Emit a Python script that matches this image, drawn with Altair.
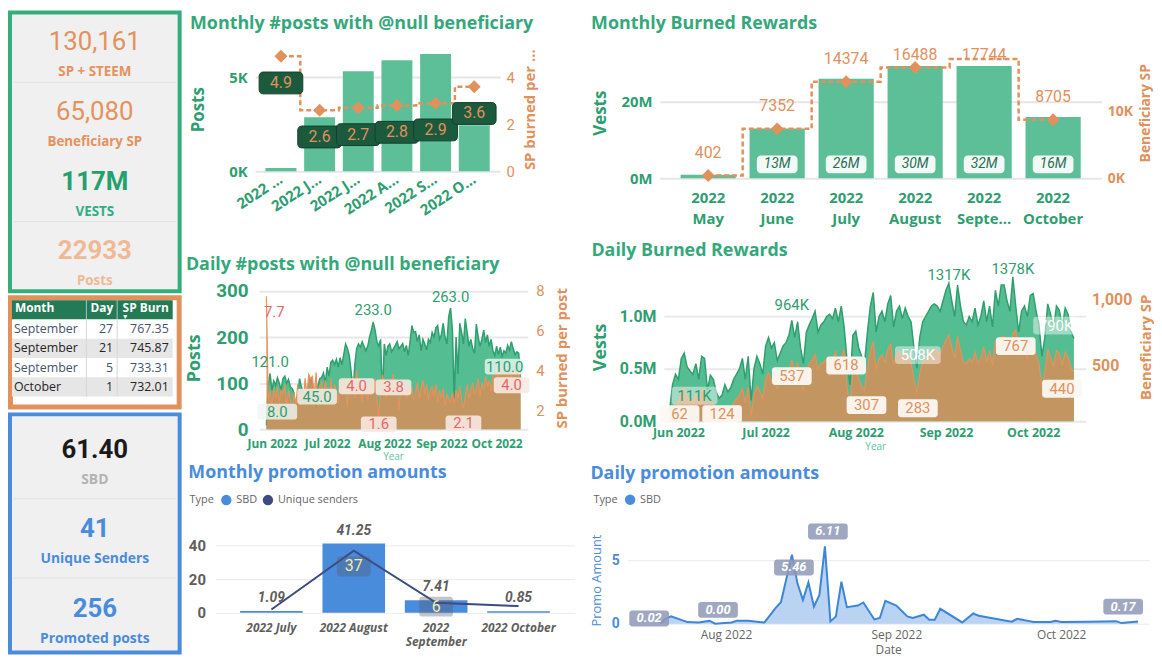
import altair as alt
import pandas as pd

# ---------------- palette & fonts
G_TITLE = "#34a87b"
G_TXT = "#2e9e71"
G_BAR = "#5cbf98"
G_AREA = "#55bd92"
G_LINE = "#2f9f6f"
OR = "#e0915c"
OR_AREA = "#dc8e57"
OR_LINE = "#e8915a"
RED_LBL = "#e8676b"
BLUE = "#4a8cdc"
NAVY = "#3d4b80"
GRAY = "#605e5c"
TF = "'Segoe UI', 'Open Sans', sans-serif"
NF = "DIN, Roboto, sans-serif"

# ---------------- KPI data
KPI1_VALUES = ["130,161", "65,080", "117M", "22933"]
KPI1_LABELS = ["SP + STEEM", "Beneficiary SP", "VESTS", "Posts"]
KPI2_VALUES = ["61.40", "41", "256"]
KPI2_LABELS = ["SBD", "Unique Senders", "Promoted posts"]
TABLE_HEAD = ["Month", "Day", "SP Burn"]
TABLE_MONTH = ["September", "September", "September", "October"]
TABLE_DAY = [27, 21, 5, 1]
TABLE_SP = [767.35, 745.87, 733.31, 732.01]

# ---------------- monthly data
MONTHS = ["2022 May", "2022 June", "2022 July", "2022 August", "2022 September", "2022 October"]
MONTH_SHORT = ["2022 …", "2022 J…", "2022 J…", "2022 A…", "2022 S…", "2022 O…"]
MONTH_NAMES = ["May", "June", "July", "August", "Septe…", "October"]
POSTS_MONTHLY = [175, 2872, 5319, 5904, 6240, 2447]
SP_PER_POST_MONTHLY = [4.9, 2.6, 2.7, 2.8, 2.9, 3.6]
VESTS_MONTHLY_M = [0.88, 13.0, 26.0, 29.6, 32.0, 16.0]
BENEF_SP_MONTHLY = [402, 7352, 14374, 16488, 17744, 8705]

PROMO_MONTHS = ["2022 July", "2022 August", "2022 September", "2022 October"]
PROMO_SBD = [1.09, 41.25, 7.41, 0.85]
PROMO_SENDERS = [2, 37, 6, 4]

# ---------------- daily data (from 2022-05-29)
DAILY_POSTS = [
    8, 95, 121, 85, 105, 95, 112, 100, 85, 110,
    115, 100, 108, 92, 88, 78, 30, 72, 110, 92,
    80, 75, 72, 95, 112, 95, 80, 45, 95, 110,
    112, 122, 100, 135, 115, 145, 150, 140, 152, 135,
    155, 140, 162, 185, 175, 160, 125, 75, 140, 175,
    185, 178, 190, 180, 170, 180, 200, 215, 233, 215,
    190, 180, 195, 70, 185, 160, 180, 185, 168, 175,
    182, 190, 175, 180, 186, 168, 182, 160, 190, 225,
    210, 212, 190, 205, 170, 195, 185, 172, 195, 188,
    210, 200, 220, 225, 195, 205, 230, 200, 185, 245,
    263, 215, 65, 200, 120, 230, 210, 185, 240, 210,
    180, 195, 175, 165, 228, 200, 180, 195, 215, 188,
    205, 180, 195, 170, 160, 180, 162, 178, 158, 170,
    165, 182, 172, 190, 175, 162, 168, 165, 110]
DAILY_SP_PER_POST = [
    7.7, 2.5, 3.0, 2.2, 3.1, 2.6, 3.2, 2.4, 3.0, 2.8,
    3.3, 2.2, 3.0, 2.6, 1.8, 2.9, 2.2, 3.3, 2.5, 3.0,
    2.4, 3.6, 2.8, 3.8, 3.6, 3.7, 2.8, 3.9, 2.2, 3.2,
    3.4, 2.6, 3.5, 3.0, 2.7, 3.6, 2.5, 3.3, 3.0, 2.4,
    3.5, 3.6, 2.8, 3.3, 2.2, 3.4, 3.0, 3.7, 2.6, 4.0,
    2.9, 3.2, 2.4, 3.6, 3.1, 2.5, 3.3, 2.8, 3.2, 3.6,
    2.7, 1.6, 3.0, 3.8, 3.4, 2.6, 3.1, 2.9, 3.5, 3.8,
    3.0, 3.3, 2.0, 3.2, 2.8, 3.4, 2.6, 3.0, 2.7, 3.2,
    2.5, 2.9, 3.4, 2.6, 3.1, 3.5, 2.8, 3.3, 2.5, 3.0,
    3.2, 2.7, 3.3, 2.4, 3.0, 2.6, 3.1, 2.2, 2.8, 2.6,
    2.4, 2.9, 2.3, 3.0, 2.6, 3.2, 2.5, 2.1, 2.7, 3.3,
    2.6, 3.0, 3.4, 2.8, 3.1, 3.6, 2.7, 3.4, 3.0, 3.7,
    3.2, 3.5, 2.9, 3.8, 3.3, 4.1, 3.6, 4.2, 3.9, 3.5,
    4.0, 3.7, 4.1, 3.6, 4.0, 3.8, 4.0, 3.7, 4.0]
DAILY_VESTS_M = [
    0.111, 0.35, 0.45, 0.40, 0.60, 0.65, 0.52, 0.48, 0.45, 0.55,
    0.40, 0.62, 0.60, 0.30, 0.44, 0.40, 0.28, 0.22, 0.25, 0.35,
    0.28, 0.32, 0.40, 0.45, 0.50, 0.60, 0.40, 0.62, 0.20, 0.50,
    0.62, 0.55, 0.45, 0.72, 0.80, 0.70, 0.75, 0.58, 0.65, 0.72,
    0.75, 0.82, 0.964, 0.80, 0.95, 0.70, 0.55, 0.85, 0.92, 0.98,
    1.05, 0.85, 0.92, 0.95, 1.00, 1.02, 0.98, 1.08, 0.95, 1.10,
    0.90, 0.58, 0.35, 0.82, 0.86, 0.70, 0.62, 0.55, 0.85, 1.10,
    1.23, 0.85, 1.00, 1.05, 0.95, 1.12, 1.20, 0.90, 1.05, 1.10,
    0.98, 1.08, 1.00, 0.95, 0.70, 0.508, 0.80, 0.95, 1.00, 1.05,
    1.10, 1.12, 1.10, 1.05, 1.15, 1.25, 1.317, 1.15, 1.00, 1.30,
    1.10, 0.95, 0.92, 1.00, 0.95, 1.08, 0.92, 1.00, 1.15, 0.95,
    1.10, 0.90, 1.25, 1.10, 1.30, 1.30, 1.15, 1.05, 1.378, 1.10,
    0.85, 1.05, 1.10, 1.00, 1.20, 1.22, 1.05, 0.92, 0.62, 0.80,
    1.12, 1.02, 0.88, 1.10, 1.06, 0.90, 1.08, 1.02, 0.86, 0.79]
DAILY_BENEF_SP = [
    62, 150, 210, 190, 300, 330, 250, 240, 220, 280,
    200, 320, 290, 160, 230, 200, 150, 124, 140, 190,
    150, 170, 210, 240, 270, 320, 210, 330, 110, 270,
    340, 300, 240, 400, 440, 380, 410, 320, 350, 400,
    410, 450, 537, 440, 520, 380, 300, 470, 510, 540,
    580, 470, 510, 520, 550, 560, 540, 600, 520, 560,
    618, 320, 200, 450, 480, 390, 340, 307, 470, 610,
    680, 470, 550, 580, 520, 620, 660, 500, 580, 610,
    540, 600, 550, 520, 390, 283, 440, 520, 550, 580,
    610, 620, 610, 580, 640, 690, 730, 640, 550, 720,
    610, 520, 510, 550, 520, 600, 510, 550, 640, 520,
    610, 500, 690, 610, 720, 720, 640, 580, 740, 767,
    600, 580, 610, 550, 660, 680, 580, 510, 340, 440,
    620, 560, 490, 610, 590, 500, 600, 560, 480, 440]

PROMO_DATES = ["2022-07-20", "2022-07-21", "2022-07-22", "2022-07-25", "2022-07-27", "2022-07-29",
               "2022-07-30", "2022-08-02", "2022-08-03", "2022-08-05", "2022-08-08", "2022-08-10",
               "2022-08-11", "2022-08-13", "2022-08-14", "2022-08-15", "2022-08-16", "2022-08-17",
               "2022-08-18", "2022-08-19", "2022-08-20", "2022-08-21", "2022-08-22", "2022-08-23",
               "2022-08-25", "2022-08-26", "2022-08-28", "2022-08-29", "2022-08-30", "2022-09-01",
               "2022-09-03", "2022-09-04", "2022-09-06", "2022-09-07", "2022-09-08", "2022-09-09",
               "2022-09-13", "2022-09-15", "2022-09-16", "2022-09-22", "2022-09-23", "2022-09-26",
               "2022-09-29", "2022-09-30", "2022-10-01", "2022-10-06", "2022-10-11", "2022-10-12",
               "2022-10-15"]
PROMO_SBD_DAILY = [0.02, 0.39, 0.58, 0.13, 0.10, 0.24, 0.00, 0.10, 0.24, 0.24,
                   0.10, 1.23, 1.70, 5.46, 3.19, 1.88, 3.27, 1.34, 2.28, 6.11,
                   0.18, 0.58, 3.32, 1.31, 1.44, 1.68, 0.34, 0.45, 1.81, 1.44,
                   0.58, 0.45, 0.71, 0.31, 0.31, 1.18, 0.10, 0.81, 0.63, 0.16,
                   0.39, 0.13, 0.13, 0.24, 0.13, 0.16, 0.20, 0.05, 0.17]


def jslist(items):
    return "[" + ",".join("'%s'" % s for s in items) + "]"


def ttl(text, color, offset=10):
    return alt.TitleParams(text=text, anchor="start", frame="bounds", font=TF, fontSize=18,
                           fontWeight="bold", color=color, offset=offset)


def indep(c):
    return c.resolve_scale(color="independent").resolve_legend(color="independent")


ONE = pd.DataFrame({"k": [0]})


def lbl_layers(df, x, y, specs, text, tcolor, fsize, box=None, font=NF, weight="normal",
               style="normal", calc=None):
    out = []
    for idx, dx, dy in specs:
        base = alt.Chart(df.iloc[[idx]].reset_index(drop=True))
        if calc:
            base = base.transform_calculate(**calc)
        if box:
            out.append(base.mark_rect(width=box["w"], height=box["h"], cornerRadius=box.get("r", 4),
                                      color=box["fill"], opacity=box["op"], xOffset=dx,
                                      yOffset=dy).encode(x=x, y=y))
        out.append(base.mark_text(dx=dx, dy=dy, color=tcolor, fontSize=fsize, font=font,
                                  fontWeight=weight, fontStyle=style).encode(x=x, y=y, text=text))
    return out


# ================= KPI panels
PANEL_W = 175


def kpi_panel(values, labels, vcolors, lcolors, vsize, vweights, seps, stroke, height, top,
              brange, vdy, ldy, lsize, sep_off=0):
    n = len(values)
    df = pd.DataFrame({"row": list(range(n)), "value": values, "label": labels,
                       "vc": vcolors, "lc": lcolors, "vw": vweights})
    sc = alt.Scale(domain=list(range(n)), range=brange, paddingInner=0, paddingOuter=0)
    y = alt.Y("row:O", axis=None, scale=sc)
    layers = [alt.Chart(ONE).mark_rect(fill="#f0f0f0", stroke=stroke, strokeWidth=4).encode(
        x=alt.value(2), x2=alt.value(PANEL_W - 2), y=alt.value(-top + 2), y2=alt.value(height - 2))]
    sdf = pd.DataFrame({"row": seps})
    layers.append(alt.Chart(sdf).mark_rule(color="#e2e2e2", strokeWidth=1, yOffset=sep_off).encode(
        y=alt.Y("row:O", axis=None, scale=sc, bandPosition=0),
        x=alt.value(6), x2=alt.value(PANEL_W - 6)))
    for wt in ["normal", "bold"]:
        layers.append(alt.Chart(df).transform_filter(f"datum.vw == '{wt}'").mark_text(
            font=NF, fontWeight=wt, fontSize=vsize, dy=vdy).encode(
            y=y, x=alt.value(PANEL_W / 2), text="value:N", color=alt.Color("vc:N", scale=None)))
    layers.append(alt.Chart(df).mark_text(font=TF, fontWeight="bold", fontSize=lsize, dy=ldy).encode(
        y=y, x=alt.value(PANEL_W / 2), text="label:N", color=alt.Color("lc:N", scale=None)))
    return alt.layer(*layers).properties(width=PANEL_W, height=height)


KPI_OR = "#e5925d"
green_box = kpi_panel(KPI1_VALUES, KPI1_LABELS,
                      [KPI_OR, KPI_OR, "#24a06d", "#f0b994"],
                      [KPI_OR, KPI_OR, "#2fae86", "#f0b994"],
                      26, ["normal", "normal", "bold", "bold"],
                      [1, 3], "#34ae7d", 248, 37, [-35, 246], -5, 25, 13.5)

blue_box = kpi_panel(KPI2_VALUES, KPI2_LABELS,
                     ["#1a1a1a", BLUE, BLUE], ["#b3b3b3", BLUE, BLUE],
                     26, ["bold", "bold", "bold"],
                     [1, 2], BLUE, 244, 0, [2, 242], -4, 26, 14, sep_off=5)

# table panel
trows = pd.DataFrame({"row": [0, 1, 2, 3, 4],
                      "bg": ["#237a55", "#ffffff", "#e6e6e6", "#ffffff", "#e6e6e6"]})
tbody = pd.DataFrame({"row": [1, 2, 3, 4], "month": TABLE_MONTH, "day": TABLE_DAY, "sp": TABLE_SP,
                      "tc": ["#44546a", "#252423", "#44546a", "#252423"]})
thead = pd.DataFrame({"row": [0], "h1": [TABLE_HEAD[0]], "h2": [TABLE_HEAD[1]], "h3": [TABLE_HEAD[2]]})
tsc = alt.Scale(domain=[0, 1, 2, 3, 4], range=[5, 102], paddingInner=0, paddingOuter=0)
ty = alt.Y("row:O", axis=None, scale=tsc)
hdr = dict(font=TF, fontWeight="bold", fontSize=12, color="white", dy=-2)
body = dict(font=TF, fontSize=12.5)
table_box = alt.layer(
    alt.Chart(ONE).mark_rect(fill="white", stroke="#e0915c", strokeWidth=5).encode(
        x=alt.value(2.5), x2=alt.value(PANEL_W - 2.5), y=alt.value(2.5), y2=alt.value(112.5)),
    alt.Chart(trows).mark_rect().encode(y=ty, x=alt.value(4), x2=alt.value(166),
                                         color=alt.Color("bg:N", scale=None)),
    alt.Chart(ONE).mark_rule(color="#d6d6d6").encode(x=alt.value(79), y=alt.value(24.4), y2=alt.value(102)),
    alt.Chart(ONE).mark_rule(color="#d6d6d6").encode(x=alt.value(110), y=alt.value(24.4), y2=alt.value(102)),
    alt.Chart(ONE).mark_rule(color="#ffffff", opacity=0.6).encode(x=alt.value(79), y=alt.value(5), y2=alt.value(24.4)),
    alt.Chart(ONE).mark_rule(color="#ffffff", opacity=0.6).encode(x=alt.value(110), y=alt.value(5), y2=alt.value(24.4)),
    alt.Chart(thead).mark_text(align="left", **hdr).encode(y=ty, x=alt.value(7), text="h1:N"),
    alt.Chart(thead).mark_text(align="right", **hdr).encode(y=ty, x=alt.value(106), text="h2:N"),
    alt.Chart(thead).mark_text(align="right", **hdr).encode(y=ty, x=alt.value(162), text="h3:N"),
    alt.Chart(thead).mark_text(text="▼", fontSize=7, color="white", dy=7).encode(y=ty, x=alt.value(118)),
    alt.Chart(tbody).mark_text(align="left", **body).encode(
        y=ty, x=alt.value(6), text="month:N", color=alt.Color("tc:N", scale=None)),
    alt.Chart(tbody).mark_text(align="right", **body).encode(
        y=ty, x=alt.value(106), text="day:Q", color=alt.Color("tc:N", scale=None)),
    alt.Chart(tbody).mark_text(align="right", **body).encode(
        y=ty, x=alt.value(162), text=alt.Text("sp:Q", format=".2f"), color=alt.Color("tc:N", scale=None)),
).properties(width=PANEL_W, height=115)

left_col = indep(alt.vconcat(indep(alt.vconcat(green_box, table_box, spacing=2)), blue_box, spacing=3))

# ================= Chart A: monthly posts
dfA = pd.DataFrame({"month": MONTHS, "posts": POSTS_MONTHLY, "spp": SP_PER_POST_MONTHLY})
xA = alt.X("month:N", sort=MONTHS, title=None,
           scale=alt.Scale(range=[40, 287], paddingInner=0.2, paddingOuter=0.27),
           axis=alt.Axis(labelAngle=327, labelAlign="right", labelBaseline="middle",
                         labelExpr=f"{jslist(MONTH_SHORT)}[indexof({jslist(MONTHS)}, datum.value)]",
                         labelFont=TF, labelFontSize=15, labelFontWeight="bold", labelColor=G_TXT,
                         domain=False, ticks=False, labelPadding=6))
yA1 = alt.Y("posts:Q", title="Posts", scale=alt.Scale(domain=[0, 6600], nice=False),
            axis=alt.Axis(values=[0, 5000], labelExpr="format(datum.value / 1000, 'd') + 'K'",
                          offset=-40, grid=True, gridColor="#e6e6e6", gridWidth=2, domain=False,
                          ticks=False, labelFont=TF, labelFontSize=15, labelFontWeight="bold",
                          labelColor=G_TXT, labelPadding=8, titleFont=TF, titleFontSize=17,
                          titleFontWeight="bold", titleColor=G_TXT, titlePadding=21))
spA = alt.Scale(domain=[0, 5.28], nice=False)
yA2 = alt.Y("spp:Q", title="SP burned per post", scale=spA,
            axis=alt.Axis(orient="right", values=[0, 2, 4], grid=False, domain=False, ticks=False,
                          labelFont=NF, labelFontSize=15, labelColor=OR, labelPadding=6,
                          titleFont=TF, titleFontSize=15, titleFontWeight="bold", titleColor=OR,
                          titleAngle=270, titleBaseline="top", titleLimit=122, titlePadding=8))
yA2n = alt.Y("spp:Q", scale=spA, axis=None)
chartA = alt.layer(
    alt.Chart(dfA).mark_bar(color=G_BAR).encode(x=xA, y=yA1),
    alt.layer(
        alt.Chart(dfA).mark_line(interpolate="step", strokeDash=[5, 3], strokeWidth=2.5, color=OR).encode(x=xA, y=yA2),
        alt.Chart(dfA).mark_point(shape="diamond", filled=True, size=170, opacity=1, color=OR).encode(x=xA, y=yA2),
    ),
    alt.layer(
        alt.Chart(dfA).mark_rect(width=44, height=22, cornerRadius=4, color="#1c5a3e", stroke="#123f2b",
                                 strokeWidth=1, yOffset=27).encode(x=xA, y=yA2n),
        alt.Chart(dfA).mark_text(font=NF, fontSize=16, color=OR, dy=27).encode(
            x=xA, y=yA2n, text=alt.Text("spp:Q", format=".1f")),
    ),
).resolve_scale(y="independent").properties(width=287, height=125,
                                            title=ttl("Monthly #posts with @null beneficiary", G_TITLE, 14))

# ================= Chart D: monthly burned rewards
dfD = pd.DataFrame({"month": MONTHS, "vests": VESTS_MONTHLY_M, "sp": BENEF_SP_MONTHLY})
xD = alt.X("month:N", sort=MONTHS, title=None,
           scale=alt.Scale(range=[33, 478], paddingInner=0.2, paddingOuter=0.3),
           axis=alt.Axis(labelAngle=0,
                         labelExpr=f"['2022', {jslist(MONTH_NAMES)}[indexof({jslist(MONTHS)}, datum.value)]]",
                         labelFont=TF, labelFontSize=15, labelFontWeight="bold", labelColor=G_TXT,
                         labelLineHeight=22, domain=False, ticks=False, labelPadding=12))
vD = alt.Scale(domain=[0, 34.2], nice=False)
axD1 = alt.Axis(values=[0, 20], labelExpr="format(datum.value, 'd') + 'M'", offset=-33,
                grid=True, gridColor="#e6e6e6", gridWidth=2, domain=False, ticks=False,
                labelFont=TF, labelFontSize=15, labelFontWeight="bold", labelColor=G_TXT,
                labelPadding=8, titleFont=TF, titleFontSize=17, titleFontWeight="bold",
                titleColor=G_TXT, titlePadding=12)
yD1 = alt.Y("vb:Q", title="Vests", scale=vD, axis=axD1)
yDz = alt.Y("z:Q", title="Vests", scale=vD, axis=axD1)
sD = alt.Scale(domain=[0, 19508], nice=False)
yD2 = alt.Y("sp:Q", title="Beneficiary SP", scale=sD,
            axis=alt.Axis(orient="right", values=[0, 10000],
                          labelExpr="format(datum.value / 1000, 'd') + 'K'",
                          grid=False, domain=False, ticks=False,
                          labelFont=TF, labelFontSize=14, labelFontWeight="bold", labelColor=OR,
                          labelPadding=6, titleFont=TF, titleFontSize=14, titleFontWeight="bold",
                          titleColor=OR, titleAngle=270, titleBaseline="top", titlePadding=6))
baseD = alt.Chart(dfD)
chartD = alt.layer(
    alt.layer(
        baseD.transform_calculate(vb="min(datum.vests, 29.3)").mark_bar(color=G_BAR).encode(x=xD, y=yD1),
        baseD.transform_filter("datum.vests > 5").transform_calculate(z="0").mark_rect(
            width=41, height=18, cornerRadius=4, color="white", opacity=0.92, yOffset=-14).encode(
            x=xD, y=yDz),
        baseD.transform_filter("datum.vests > 5").transform_calculate(
            z="0", t="format(datum.vests, '.0f') + 'M'").mark_text(
            font=NF, fontSize=14, fontStyle="italic", color="#2b6e52", dy=-14).encode(
            x=xD, y=yDz, text="t:N"),
    ),
    alt.layer(
        baseD.mark_line(interpolate="step", strokeDash=[5, 3], strokeWidth=2.5, color=OR).encode(x=xD, y=yD2),
        baseD.transform_filter("datum.sp < 17000").mark_point(
            shape="diamond", filled=True, size=170, opacity=1, color=OR).encode(x=xD, y=yD2),
    ),
    baseD.transform_calculate(ly="min(datum.sp, 15000)").mark_text(
        font=NF, fontSize=16, color=OR, dy=-23).encode(
        x=xD, y=alt.Y("ly:Q", scale=sD, axis=None), text=alt.Text("sp:Q", format="d")),
).resolve_scale(y="independent").properties(width=478, height=132,
                                            title=ttl("Monthly Burned Rewards", G_TITLE, 14))

# ================= Chart B: daily posts
datesB = pd.date_range("2022-05-29", periods=len(DAILY_POSTS), freq="D")
dfB = pd.DataFrame({"date": datesB, "posts": DAILY_POSTS, "spp": DAILY_SP_PER_POST})
month_ticks = [alt.DateTime(year=2022, month=m, date=1) for m in [6, 7, 8, 9, 10]]
xB = alt.X("date:T", title="Year",
           scale=alt.Scale(domain=[alt.DateTime(year=2022, month=5, date=25),
                                   alt.DateTime(year=2022, month=10, date=18)], range=[44, 315]),
           axis=alt.Axis(values=month_ticks, format="%b %Y", labelFlush=False, labelFont=TF,
                         labelFontSize=12, labelFontWeight="bold", labelColor=G_TXT, grid=False,
                         domain=False, ticks=False, labelPadding=9, titleFont=TF, titleFontSize=10,
                         titleFontWeight="normal", titleColor="#5cc4a0", titlePadding=2, titleX=179))
pB = alt.Scale(domain=[0, 310], nice=False)
yB1 = alt.Y("posts:Q", title="Posts", scale=pB,
            axis=alt.Axis(values=[0, 100, 200, 300], offset=-44, grid=True, gridColor="#e8e8e8",
                          gridWidth=2, domain=False, ticks=False, labelFont=NF, labelFontSize=19,
                          labelFontWeight="bold", labelColor=G_TXT, labelPadding=11, titleFont=TF,
                          titleFontSize=18, titleFontWeight="bold", titleColor=G_TXT, titlePadding=12))
sB = alt.Scale(domain=[1.06, 8.2], nice=False)
yB2 = alt.Y("spp:Q", title="SP burned per post", scale=sB,
            axis=alt.Axis(orient="right", values=[2, 4, 6, 8], grid=False, domain=False, ticks=False,
                          labelFont=NF, labelFontSize=15, labelColor=OR, labelPadding=8,
                          titleFont=TF, titleFontSize=15, titleFontWeight="bold", titleColor=OR,
                          titleAngle=270, titleBaseline="top", titlePadding=10))
yB1n = alt.Y("posts:Q", scale=pB, axis=None)
yB2n = alt.Y("spp:Q", scale=sB, axis=None)
g_box = {"w": 40, "h": 16, "fill": "#eef6f2", "op": 0.8, "r": 3}
o_box = {"w": 36, "h": 16, "fill": "#f7ebe2", "op": 0.88, "r": 3}
chartB = alt.layer(
    alt.Chart(dfB).mark_area(color=G_AREA, opacity=1, line={"color": G_LINE, "strokeWidth": 1.5}).encode(x=xB, y=yB1),
    alt.layer(
        alt.Chart(dfB).mark_area(color=OR_AREA, opacity=0.82, clip=True).encode(x=xB, y=yB2),
        alt.Chart(dfB).mark_line(color=OR_LINE, strokeWidth=1.2, clip=True).encode(x=xB, y=yB2),
    ),
    alt.layer(*(
        lbl_layers(dfB, xB, yB1n, [(2, 0, -12), (58, 0, -12), (100, 0, -11)],
                   alt.Text("posts:Q", format=".1f"), G_TXT, 15)
        + lbl_layers(dfB, xB, yB1n, [(0, 11, -14), (27, 1, -12), (138, -16, -12)],
                     alt.Text("posts:Q", format=".1f"), G_TXT, 15, box=g_box)
    )),
    alt.layer(*(
        lbl_layers(dfB, xB, yB2n, [(0, 8, 16)], alt.Text("spp:Q", format=".1f"), RED_LBL, 15)
        + lbl_layers(dfB, xB, yB2n, [(49, 0, 16), (69, 0, 13), (61, 0, 6), (107, 0, 15), (138, -9, 15)],
                     alt.Text("spp:Q", format=".1f"), RED_LBL, 15, box=o_box)
    )),
).resolve_scale(y="independent").properties(width=315, height=144,
                                            title=ttl("Daily #posts with @null beneficiary", G_TITLE, 8))

# ================= Chart E: daily burned rewards
datesE = pd.date_range("2022-05-29", periods=len(DAILY_VESTS_M), freq="D")
dfE = pd.DataFrame({"date": datesE, "vests": DAILY_VESTS_M, "sp": DAILY_BENEF_SP})
xE = alt.X("date:T", title="Year",
           scale=alt.Scale(domain=[alt.DateTime(year=2022, month=5, date=27),
                                   alt.DateTime(year=2022, month=10, date=19)], range=[37, 462]),
           axis=alt.Axis(values=month_ticks, format="%b %Y", labelFlush=False, labelFont=TF,
                         labelFontSize=12.5, labelFontWeight="bold", labelColor=G_TXT, grid=False,
                         domain=False, ticks=False, labelPadding=5, titleFont=TF, titleFontSize=10,
                         titleFontWeight="normal", titleColor="#5cc4a0", titlePadding=3, titleX=250))
vE = alt.Scale(domain=[0, 1.42], nice=False)
yE1 = alt.Y("vests:Q", title="Vests", scale=vE,
            axis=alt.Axis(values=[0, 0.5, 1.0], labelExpr="format(datum.value, '.1f') + 'M'",
                          offset=-37, grid=True, gridColor="#e8e8e8", gridWidth=2, domain=False,
                          ticks=False, labelFont=NF, labelFontSize=16, labelFontWeight="bold",
                          labelColor=G_TXT, labelPadding=8, titleFont=TF, titleFontSize=18,
                          titleFontWeight="bold", titleColor=G_TXT, titlePadding=10))
sE = alt.Scale(domain=[68.5, 1210], nice=False)
yE2 = alt.Y("sp:Q", title="Beneficiary SP", scale=sE,
            axis=alt.Axis(orient="right", values=[500, 1000], format=",d", grid=False, domain=False,
                          ticks=False, labelFont=NF, labelFontSize=16, labelFontWeight="bold",
                          labelColor=OR, labelPadding=6, titleFont=TF, titleFontSize=15,
                          titleFontWeight="bold", titleColor=OR, titleAngle=270, titleBaseline="top",
                          titlePadding=7))
yE1n = alt.Y("vests:Q", scale=vE, axis=None)
yE2n = alt.Y("sp:Q", scale=sE, axis=None)
kcalc = {"t": "format(datum.vests * 1000, '.0f') + 'K'"}
ge_box = {"w": 46, "h": 18, "fill": "#ffffff", "op": 0.45, "r": 3}
oe_box = {"w": 40, "h": 18, "fill": "#fdf8f3", "op": 0.95, "r": 3}
chartE = alt.layer(
    alt.Chart(dfE).mark_area(color=G_AREA, opacity=1, line={"color": G_LINE, "strokeWidth": 1.5}).encode(x=xE, y=yE1),
    alt.layer(
        alt.Chart(dfE).mark_area(color=OR_AREA, opacity=0.82, clip=True).encode(x=xE, y=yE2),
        alt.Chart(dfE).mark_line(color=OR_LINE, strokeWidth=1.2, clip=True).encode(x=xE, y=yE2),
    ),
    alt.layer(*(
        lbl_layers(dfE, xE, yE1n, [(42, 0, -15), (96, 0, -8), (118, 0, -8)], "t:N", G_TXT, 15, calc=kcalc)
        + lbl_layers(dfE, xE, yE1n, [(0, 25, -14)], "t:N", G_TXT, 15, box=ge_box, calc=kcalc)
        + lbl_layers(dfE, xE, yE1n, [(85, 1, -13), (139, -18, -13)], "t:N", "#ffffff", 15, box=ge_box, calc=kcalc)
    )),
    alt.layer(*lbl_layers(dfE, xE, yE2n,
                          [(0, 10, -8), (17, 3, 0), (42, 0, 16), (60, 2, 16), (67, 2, 15),
                           (85, 1, 15), (119, 0, 16), (139, -12, 16)],
                          alt.Text("sp:Q", format="d"), OR, 15, box=oe_box)),
).resolve_scale(y="independent").properties(width=462, height=150,
                                            title=ttl("Daily Burned Rewards", G_TITLE, 2))

# ================= Chart C: monthly promotion
dfC = pd.DataFrame({"month": PROMO_MONTHS, "sbd": PROMO_SBD, "senders": PROMO_SENDERS})
xC = alt.X("month:N", sort=PROMO_MONTHS, title=None,
           scale=alt.Scale(paddingInner=0.24, paddingOuter=0.3),
           axis=alt.Axis(labelAngle=0,
                         labelExpr="datum.value == '2022 September' ? ['2022', 'September'] : datum.value",
                         labelFont=TF, labelFontSize=12, labelFontWeight="bold", labelFontStyle="italic",
                         labelColor=GRAY, labelLineHeight=14, domain=False, ticks=False, labelPadding=10))
cC = alt.Scale(domain=[0, 49], nice=False)
axC = alt.Axis(values=[0, 20, 40], grid=True, gridColor="#ebebeb", domain=False, ticks=False,
               labelFont=NF, labelFontSize=15, labelFontWeight="bold", labelColor=GRAY, labelPadding=10)
yC = alt.Y("sbd:Q", title=None, scale=cC, axis=axC)
yCs = alt.Y("senders:Q", title=None, scale=cC, axis=axC)
legC = alt.Legend(title="Type", orient="none", legendX=-26, legendY=-37, direction="horizontal",
                  titleOrient="left", symbolType="circle", symbolSize=110, labelFont=TF,
                  titleFont=TF, labelFontSize=11, titleFontSize=11, labelColor="#666666",
                  titleColor="#666666", titleFontWeight="normal", columnPadding=4, titlePadding=6,
                  symbolOpacity=1)
s_box = {"w": 34, "h": 20, "fill": "#505a6a", "op": 0.35, "r": 3}
chartC = alt.layer(
    alt.Chart(dfC).transform_calculate(type="'SBD'").mark_bar(opacity=1).encode(
        x=xC, y=yC, color=alt.Color("type:N", scale=alt.Scale(domain=["SBD", "Unique senders"],
                                                               range=[BLUE, NAVY]), legend=legC)),
    alt.Chart(dfC).mark_line(color=NAVY, strokeWidth=2).encode(x=xC, y=yCs),
    alt.Chart(dfC).mark_text(font=NF, fontSize=14, fontWeight="bold", fontStyle="italic", color=GRAY,
                             dy=-13).encode(x=xC, y=yC, text=alt.Text("sbd:Q", format=".2f")),
    *lbl_layers(dfC, xC, yCs, [(1, 0, 16), (2, 0, 4)], alt.Text("senders:Q", format="d"),
                "#f7eaa8", 16, box=s_box),
).properties(width=362, height=83, title=ttl("Monthly promotion amounts", BLUE, 12))

# ================= Chart F: daily promotion
dfF = pd.DataFrame({"date": pd.to_datetime(PROMO_DATES), "sbd": PROMO_SBD_DAILY})
xF = alt.X("date:T", title="Date",
           scale=alt.Scale(domain=[alt.DateTime(year=2022, month=7, date=14),
                                   alt.DateTime(year=2022, month=10, date=17)]),
           axis=alt.Axis(values=month_ticks[2:], format="%b %Y", labelFlush=False, labelFont=TF,
                         labelFontSize=12, labelColor="#666666", grid=False, domain=False,
                         ticks=False, labelPadding=6, titleFont=TF, titleFontSize=12,
                         titleFontWeight="normal", titleColor="#666666", titlePadding=4))
fF = alt.Scale(domain=[0, 6.9], nice=False)
yF = alt.Y("sbd:Q", title="Promo Amount", scale=fF,
           axis=alt.Axis(values=[0, 5], grid=True, gridColor="#ebebeb", domain=False, ticks=False,
                         labelFont=NF, labelFontSize=14, labelFontWeight="bold", labelColor=BLUE,
                         labelPadding=8, titleFont=TF, titleFontSize=13, titleFontWeight="normal",
                         titleColor=BLUE, titlePadding=8))
legF = alt.Legend(title="Type", orient="none", legendX=-34, legendY=-43, direction="horizontal",
                  titleOrient="left", symbolType="circle", symbolSize=110, labelFont=TF,
                  titleFont=TF, labelFontSize=11, titleFontSize=11, labelColor="#666666",
                  titleColor="#666666", titleFontWeight="normal", titlePadding=6, symbolOpacity=1)
p_box = {"w": 40, "h": 16, "fill": "#8f98b6", "op": 0.85, "r": 3}
chartF = alt.layer(
    alt.Chart(dfF).transform_calculate(type="'SBD'").mark_area(fillOpacity=0.38).encode(
        x=xF, y=yF, color=alt.Color("type:N", scale=alt.Scale(domain=["SBD"], range=[BLUE]), legend=legF)),
    alt.Chart(dfF).mark_line(color="#3c86d8", strokeWidth=2).encode(x=xF, y=yF),
    *lbl_layers(dfF, xF, yF, [(0, -11, -5), (6, 3, -14), (13, 2, 13), (19, 3, -15), (48, -15, -15)],
                alt.Text("sbd:Q", format=".2f"), "white", 13, box=p_box, weight="bold", style="italic"),
).properties(width=526, height=88, title=ttl("Daily promotion amounts", BLUE, 11))

mid_col = indep(alt.vconcat(indep(alt.vconcat(chartA, chartB, spacing=37)), chartC, spacing=3))
right_col = indep(alt.vconcat(indep(alt.vconcat(chartD, chartE, spacing=15)), chartF, spacing=13))

chart = indep(alt.hconcat(left_col, indep(alt.hconcat(mid_col, right_col, spacing=15)), spacing=4)).properties(
    padding=0, background="white"
).configure_view(stroke=None)

chart.save("out.html", embed_options={"renderer": "svg", "actions": False})
